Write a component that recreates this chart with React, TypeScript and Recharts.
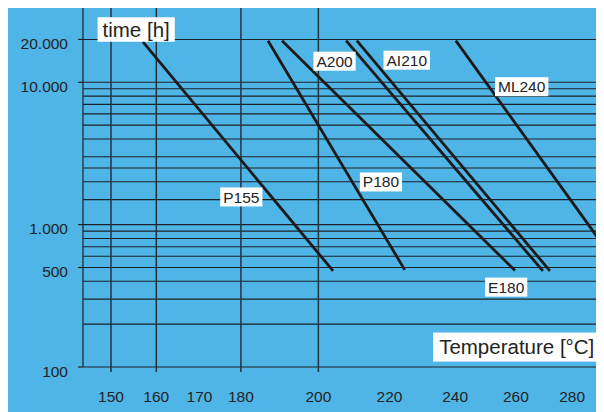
import React from "react";
import { LineChart, Line, XAxis, YAxis, CartesianGrid, ReferenceDot, ReferenceLine } from "recharts";

// ---- data ----
const seriesNames = ["P155", "P180", "E180", "A200", "AI210", "ML240"];
const startTemps = [157.0, 186.8, 190.4, 207.6, 210.6, 240.2];
const startHours = [19200, 19600, 19600, 19600, 19600, 19600];
const endTemps = [204.0, 224.5, 259.7, 269.4, 271.9, 291.6];
const endHours = [473, 481, 476, 473, 473, 720];

const xTickTemps = [150, 160, 170, 180, 200, 220, 240, 260, 280];
const xGridTemps = [150, 160, 180, 200];
const yTicks = [100, 500, 1000, 10000, 20000];
const yGrid = [200, 300, 400, 500, 600, 700, 800, 900, 1000, 1500, 2000, 2500, 3000, 4000, 5000, 6000, 7000, 8000, 9000, 10000, 20000];

const labelTexts = ["time [h]", "A200", "AI210", "ML240", "P180", "P155", "E180", "Temperature [°C]"];
const labelTemps = [155.5, 204.4, 225.1, 262.0, 217.5, 180.1, 256.7, 260.3];
const labelHours = [23490, 14070, 14300, 9313, 1995, 1565, 364, 138];
const labelIsTitle = [true, false, false, false, false, false, false, true];

const tempMin = 144.05;
const tempMax = 291.6;
const hourMin = 100;
const hourMax = 33800;

// ---- helpers ----
const u = (T: number) => -1e6 / (T + 273);
const toT = (v: number) => Math.round(-1e6 / v - 273);
const FONT = '"Liberation Sans", Arial, Helvetica, sans-serif';
const TEXT = "#232323";
const LINE = "#1b1b1b";

const charW: Record<string, number> = {
  " ": 0.278, "[": 0.278, "]": 0.278, "°": 0.4, a: 0.556, e: 0.556, m: 0.833, p: 0.556,
  r: 0.333, t: 0.278, u: 0.556, i: 0.222, h: 0.556, T: 0.611, C: 0.722, A: 0.667,
  E: 0.667, P: 0.667, M: 0.833, L: 0.556, I: 0.278,
};
const textWidth = (s: string, fs: number) =>
  s.split("").reduce((acc, c) => acc + (charW[c] ?? 0.556), 0) * fs;

const fmtHours = (v: number) => String(v).replace(/\B(?=(\d{3})+(?!\d))/g, ".");

const seriesData = seriesNames.map((name, i) => ({
  name,
  points: [
    { u: u(startTemps[i]), h: startHours[i] },
    { u: u(endTemps[i]), h: endHours[i] },
  ],
}));

const XTick = (props: any) => {
  const { x, y, payload } = props;
  const T = toT(payload.value);
  const isGrid = xGridTemps.includes(T);
  return (
    <g>
      {isGrid && <line x1={x} x2={x} y1={y - 5} y2={y} stroke="#26343e" strokeWidth={1.5} />}
      <text x={x} y={y + 30} textAnchor="middle" fontSize={15.5} fontFamily={FONT} fill={TEXT}>
        {T}
      </text>
    </g>
  );
};

const YTick = (props: any) => {
  const { x, y, payload } = props;
  return (
    <text x={x} y={y + 9.5} textAnchor="end" fontSize={15.5} fontFamily={FONT} fill={TEXT}>
      {fmtHours(payload.value)}
    </text>
  );
};

const makeLabelShape = (text: string, title: boolean) => (props: any) => {
  const { cx, cy } = props;
  const fs = title ? 20.5 : 15.5;
  const pad = title ? 5 : 3;
  const w = textWidth(text, fs) + pad * 2;
  const h = title ? (text.startsWith("T") ? 29 : 24.5) : 19;
  return (
    <g>
      <rect x={cx - w / 2} y={cy - h / 2} width={w} height={h} fill="#ffffff" />
      <text
        x={cx}
        y={cy + fs * 0.358}
        textAnchor="middle"
        fontSize={fs}
        fontFamily={FONT}
        fill={TEXT}
      >
        {text}
      </text>
    </g>
  );
};

export default function App() {
  return (
    <div style={{ margin: "-1px 0 0 -1px", width: 597, height: 405, background: "#4fb4e6" }}>
      <LineChart width={597} height={405} margin={{ top: 0, right: 1, bottom: 0, left: 0 }}>
        <CartesianGrid
          horizontal={true}
          vertical={false}
          horizontalValues={yGrid}
          stroke="#1c2228"
          strokeWidth={1.1}
        />
        <CartesianGrid
          horizontal={false}
          vertical={true}
          verticalValues={xGridTemps.map(u)}
          stroke="#26343e"
          strokeWidth={1.5}
        />
        <XAxis
          dataKey="u"
          type="number"
          domain={[u(tempMin), u(tempMax)]}
          allowDataOverflow
          ticks={xTickTemps.map(u)}
          interval={0}
          tick={<XTick />}
          tickLine={false}
          tickSize={5}
          tickMargin={0}
          axisLine={{ stroke: "#222", strokeWidth: 1.2 }}
          height={45}
        />
        <YAxis
          type="number"
          scale="log"
          domain={[hourMin, hourMax]}
          allowDataOverflow
          ticks={yTicks}
          interval={0}
          width={76}
          tickSize={5}
          tickMargin={10}
          tick={<YTick />}
          tickLine={{ stroke: "#222", strokeWidth: 1.2 }}
          axisLine={{ stroke: "#222", strokeWidth: 1.2 }}
        />
        <ReferenceLine y={hourMax} stroke="#3a4650" strokeWidth={2} ifOverflow="visible" />
        {seriesData.map((s) => (
          <Line
            key={s.name}
            data={s.points}
            dataKey="h"
            name={s.name}
            type="linear"
            stroke={LINE}
            strokeWidth={2.8}
            dot={false}
            activeDot={false}
            isAnimationActive={false}
            strokeLinecap="butt"
          />
        ))}
        {labelTexts.map((t, i) => (
          <ReferenceDot
            key={t}
            x={u(labelTemps[i])}
            y={labelHours[i]}
            r={0}
            shape={makeLabelShape(t, labelIsTitle[i])}
          />
        ))}
      </LineChart>
    </div>
  );
}
